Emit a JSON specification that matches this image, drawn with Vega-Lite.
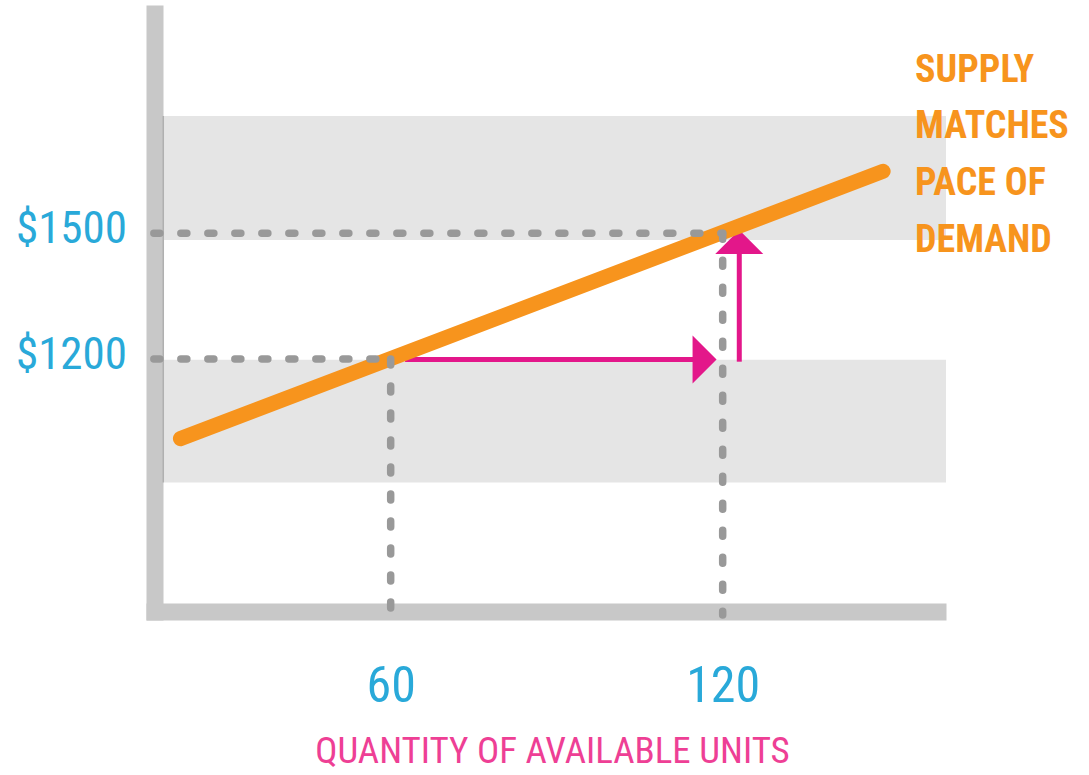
{
  "$schema": "https://vega.github.io/schema/vega-lite/v6.json",
  "width": 800,
  "height": 615,
  "autosize": {"type": "none"},
  "padding": {"left": 146, "top": 5, "right": 143, "bottom": 155},
  "background": "white",
  "config": {
    "view": {"stroke": null},
    "font": "Roboto Condensed, Liberation Sans, sans-serif"
  },
  "encoding": {
    "x": {
      "type": "quantitative",
      "scale": {"domain": [15.78, 160.36], "nice": false, "zero": false}
    },
    "y": {
      "type": "quantitative",
      "scale": {"domain": [577.1, 2044.9], "nice": false, "zero": false}
    }
  },
  "layer": [
    {
      "data": {"values": [
        {"q0": 18.85, "q1": 160.36, "p0": 1484, "p1": 1780},
        {"q0": 18.85, "q1": 160.36, "p0": 905, "p1": 1198}
      ]},
      "mark": {"type": "rect", "color": "#e5e5e5"},
      "encoding": {
        "x": {"field": "q0", "type": "quantitative", "title": "QUANTITY OF AVAILABLE UNITS",
          "axis": {
            "values": [60, 120], "grid": false, "ticks": false, "tickSize": 0,
            "domainColor": "#c8c8c8", "domainWidth": 17, "domainCap": "butt", "offset": -8.5,
            "labelFontSize": 50, "labelColor": "#29a9d9", "labelFont": "Roboto Condensed, Liberation Sans, sans-serif",
            "labelBaseline": "alphabetic", "labelPadding": 90,
            "titleFontSize": 37, "titleColor": "#ee3f95", "titleFontWeight": "normal",
            "titleFont": "Roboto Condensed, Liberation Sans, sans-serif",
            "titlePadding": 22, "titleX": 406
          }
        },
        "x2": {"field": "q1"},
        "y": {"field": "p0", "type": "quantitative", "title": null,
          "axis": {
            "values": [1200, 1500], "grid": false, "ticks": false, "tickSize": 0,
            "domainColor": "#c8c8c8", "domainWidth": 17, "domainCap": "butt", "offset": -8.5,
            "labelExpr": "'$' + datum.value",
            "labelFontSize": 45, "labelColor": "#29a9d9", "labelFont": "Roboto Condensed, Liberation Sans, sans-serif",
            "labelBaseline": "alphabetic", "labelOffset": 9, "labelPadding": 28
          }
        },
        "y2": {"field": "p1"}
      }
    },
    {
      "data": {"values": [{"q": 18.9, "p0": 905, "p1": 1780}]},
      "mark": {"type": "rule", "color": "#b0b0b0", "strokeWidth": 1.5},
      "encoding": {
        "x": {"field": "q", "type": "quantitative"},
        "y": {"field": "p0", "type": "quantitative"},
        "y2": {"field": "p1"}
      }
    },
    {
      "data": {"values": [
        {"q0": 62.6, "q1": 115.3, "p0": 1199, "p1": 1199},
        {"q0": 123, "q1": 123, "p0": 1193.6, "p1": 1462}
      ]},
      "mark": {"type": "rule", "color": "#e3178a", "strokeWidth": 5},
      "encoding": {
        "x": {"field": "q0", "type": "quantitative"},
        "x2": {"field": "q1"},
        "y": {"field": "p0", "type": "quantitative"},
        "y2": {"field": "p1"}
      }
    },
    {
      "data": {"values": [{"q": 118.9, "p": 1199}]},
      "mark": {"type": "point", "shape": "M0,0L-1,-1L-1,1Z", "size": 2304, "filled": true, "color": "#e3178a", "opacity": 1},
      "encoding": {
        "x": {"field": "q", "type": "quantitative"},
        "y": {"field": "p", "type": "quantitative"}
      }
    },
    {
      "data": {"values": [{"q": 123, "p": 1508}]},
      "mark": {"type": "point", "shape": "M0,0L1,1L-1,1Z", "size": 2304, "filled": true, "color": "#e3178a", "opacity": 1},
      "encoding": {
        "x": {"field": "q", "type": "quantitative"},
        "y": {"field": "p", "type": "quantitative"}
      }
    },
    {
      "data": {"values": [
        {"q": 22, "p": 1010},
        {"q": 149, "p": 1648}
      ]},
      "mark": {"type": "line", "color": "#f7941d", "strokeWidth": 15, "strokeCap": "round"},
      "encoding": {
        "x": {"field": "q", "type": "quantitative"},
        "y": {"field": "p", "type": "quantitative"}
      }
    },
    {
      "data": {"values": [
        {"q0": 17.2, "q1": 120, "p0": 1500, "p1": 1500},
        {"q0": 17.2, "q1": 60, "p0": 1200, "p1": 1200},
        {"q0": 60, "q1": 60, "p0": 1200, "p1": 589},
        {"q0": 120, "q1": 120, "p0": 1500, "p1": 589}
      ]},
      "mark": {"type": "rule", "color": "#999999", "strokeWidth": 7.5, "strokeCap": "round", "strokeDash": [6, 21]},
      "encoding": {
        "x": {"field": "q0", "type": "quantitative"},
        "x2": {"field": "q1"},
        "y": {"field": "p0", "type": "quantitative"},
        "y2": {"field": "p1"}
      }
    },
    {
      "data": {"values": [{"q": 154.76, "p": 1861.8, "label": "SUPPLY\nMATCHES\nPACE OF\nDEMAND"}]},
      "mark": {"type": "text", "align": "left", "baseline": "alphabetic", "lineBreak": "\n", "lineHeight": 56.6,
        "fontSize": 38, "fontWeight": "bold", "color": "#f7941d"},
      "encoding": {
        "x": {"field": "q", "type": "quantitative"},
        "y": {"field": "p", "type": "quantitative"},
        "text": {"field": "label"}
      }
    }
  ]
}
